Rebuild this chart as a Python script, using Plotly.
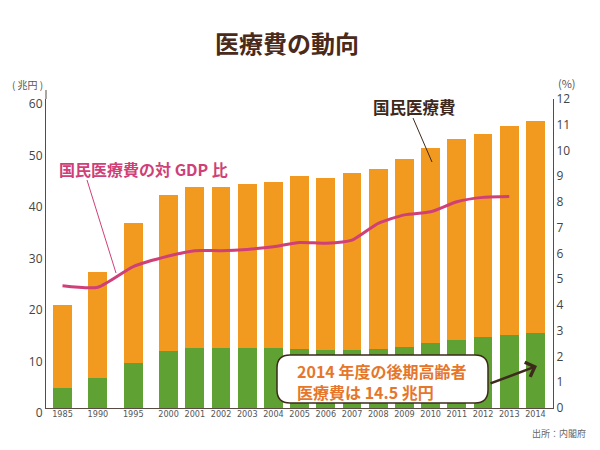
import plotly.graph_objects as go

# ---- data ----
years = [1985, 1990, 1995, 2000, 2001, 2002, 2003, 2004, 2005, 2006, 2007,
         2008, 2009, 2010, 2011, 2012, 2013, 2014]
elderly_cost = [3.9, 5.8, 8.8, 11.1, 11.6, 11.6, 11.6, 11.6, 11.5, 11.3, 11.3,
                11.4, 11.9, 12.7, 13.2, 13.7, 14.2, 14.5]
national_cost = [16.1, 20.7, 27.2, 30.3, 31.4, 31.3, 31.8, 32.3, 33.5, 33.4, 34.3,
                 35.1, 36.4, 37.7, 39.0, 39.6, 40.6, 41.2]
gdp_years = years[:-1]
gdp_ratio = [4.75, 4.69, 5.49, 5.90, 6.11, 6.11, 6.16, 6.26, 6.43, 6.40, 6.52,
             7.17, 7.50, 7.62, 8.01, 8.18, 8.21]
left_ticks = [0, 10, 20, 30, 40, 50, 60]
right_ticks = list(range(0, 13))

# ---- layout geometry ----
W, H = 600, 450
L, R, T, B = 46, 553, 99, 408


def px(x):
    return (x - L) / (R - L)


def py(y):
    return (B - y) / (B - T)


def xpos(y):
    # early five-year gaps are drawn wider than the yearly gaps
    return (y - 2000) / 5 * 1.35 if y < 2000 else float(y - 2000)


pos = [xpos(y) for y in years]
gpos = [xpos(y) for y in gdp_years]

FONT = "Noto Sans CJK JP"
GREEN = "#5fa132"
ORANGE = "#f29a1f"
PINK = "#cf3f78"
BROWN = "#3e2a1c"
AXIS = "#5a4a42"
CALLOUT = "#e6762a"

fig = go.Figure()
fig.add_trace(go.Bar(x=pos, y=elderly_cost, marker=dict(color=GREEN, line_width=0),
                     width=0.72, showlegend=False, hoverinfo="skip"))
fig.add_trace(go.Bar(x=pos, y=national_cost, marker=dict(color=ORANGE, line_width=0),
                     width=0.72, showlegend=False, hoverinfo="skip"))
fig.add_trace(go.Scatter(x=gpos, y=gdp_ratio, yaxis="y2", mode="lines",
                         line=dict(color=PINK, width=3, shape="spline", smoothing=0.6),
                         showlegend=False, hoverinfo="skip"))

# rounded box for the callout
bx0, by0, bx1, by1, rr = 277, 355, 488, 403, 13
path = (f"M {px(bx0 + rr)},{py(by0)} L {px(bx1 - rr)},{py(by0)} "
        f"Q {px(bx1)},{py(by0)} {px(bx1)},{py(by0 + rr)} "
        f"L {px(bx1)},{py(by1 - rr)} Q {px(bx1)},{py(by1)} {px(bx1 - rr)},{py(by1)} "
        f"L {px(bx0 + rr)},{py(by1)} Q {px(bx0)},{py(by1)} {px(bx0)},{py(by1 - rr)} "
        f"L {px(bx0)},{py(by0 + rr)} Q {px(bx0)},{py(by0)} {px(bx0 + rr)},{py(by0)} Z")

shapes = [
    dict(type="path", xref="paper", yref="paper", path=path,
         fillcolor="white", line=dict(color=BROWN, width=1.5), layer="above"),
    # leader lines
    dict(type="line", xref="paper", yref="paper", x0=px(87), y0=py(180), x1=px(116), y1=py(273),
         line=dict(color=PINK, width=1), layer="above"),
    dict(type="line", xref="paper", yref="paper", x0=px(413), y0=py(118), x1=px(432), y1=py(162),
         line=dict(color=BROWN, width=1), layer="above"),
    # left axis extends a bit above the top tick
    dict(type="line", xref="paper", yref="paper", x0=0, y0=1, x1=0, y1=py(90),
         line=dict(color=AXIS, width=1)),
]


def label(text, x, y, size, color, bold=False, xanchor="center", align="center"):
    return dict(text=f"<b>{text}</b>" if bold else text, xref="paper", yref="paper",
                x=px(x), y=py(y), showarrow=False, align=align,
                font=dict(family=FONT, size=size, color=color),
                xanchor=xanchor, yanchor="middle")


annotations = [
    label("医療費の動向", 286.5, 42, 24, "#4a2a1a", bold=True),
    label("( 兆円 )", 27, 84, 10, "#555"),
    label("(%)", 567, 83, 11, "#555"),
    label("国民医療費の対 GDP 比", 143.5, 169, 16, PINK, bold=True),
    label("国民医療費", 414, 107, 16.5, BROWN, bold=True),
    label("2014 年度の後期高齢者", 295, 370.5, 16, CALLOUT, bold=True, xanchor="left", align="left"),
    label("医療費は 14.5 兆円", 295, 391.5, 16, CALLOUT, bold=True, xanchor="left", align="left"),
    label("出所：内閣府", 559, 433, 9, "#666"),
    # arrow from the callout to the 2014 bar
    dict(text="", xref="paper", yref="paper", x=px(537), y=py(366),
         axref="pixel", ayref="pixel", ax=489 - 537, ay=384 - 366,
         showarrow=True, arrowhead=4, arrowsize=1.2, arrowwidth=2.5, arrowcolor=BROWN),
]

fig.update_layout(
    width=W, height=H,
    margin=dict(l=L, r=W - R, t=T, b=H - B, pad=0, autoexpand=False),
    paper_bgcolor="white", plot_bgcolor="white",
    barmode="stack", bargap=0,
    font=dict(family=FONT, color="#444"),
    shapes=shapes, annotations=annotations,
    xaxis=dict(range=[-4.68, 14.67], tickvals=pos, ticktext=[str(y) for y in years],
               showgrid=False, zeroline=False, showline=True, linecolor=AXIS, linewidth=1,
               ticks="", ticklabelstandoff=-3, automargin=False,
               tickfont=dict(family="Liberation Sans Narrow, DejaVu Sans Condensed, sans-serif",
                             size=9, color="#555")),
    yaxis=dict(range=[0, 60], tickvals=left_ticks, showgrid=False, zeroline=False,
               showline=True, linecolor=AXIS, linewidth=1, ticks="", automargin=False,
               ticklabelshift=5,
               tickfont=dict(family="Open Sans", size=12, color="#444")),
    yaxis2=dict(range=[0, 12], tickvals=right_ticks, overlaying="y", side="right",
                showgrid=False, zeroline=False, showline=True, linecolor=AXIS, linewidth=1,
                ticks="", automargin=False,
                tickfont=dict(family="Open Sans", size=12, color="#444")),
)

fig.write_html("out.html", config={"displayModeBar": False},
               post_script="document.body.style.margin='0';")
